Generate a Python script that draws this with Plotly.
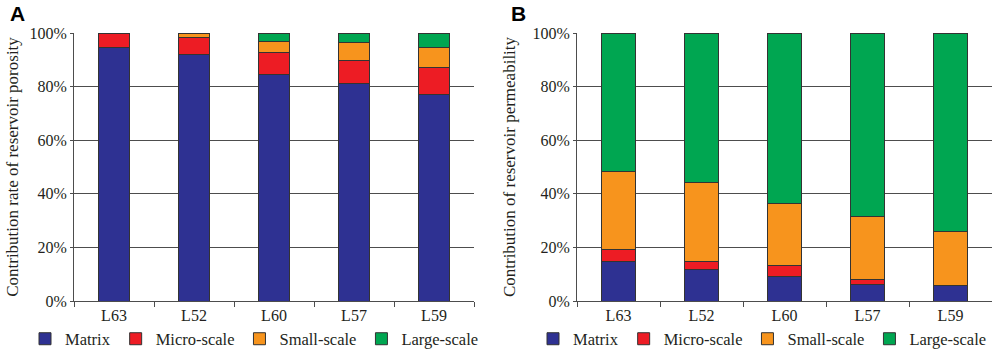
import plotly.graph_objects as go

wells = ["L63", "L52", "L60", "L57", "L59"]
components = ["Matrix", "Micro-scale", "Small-scale", "Large-scale"]
colors = ["#2e3192", "#ed1c24", "#f7941d", "#00a651"]

# Panel A: contribution rate of reservoir porosity (%)
por_matrix = [94.5, 91.8, 84.6, 81.3, 77.2]
por_micro = [5.5, 6.5, 8.2, 8.5, 10.0]
por_small = [0.0, 1.7, 4.2, 6.8, 7.5]
por_large = [0.0, 0.0, 3.0, 3.4, 5.3]

# Panel B: contribution of reservoir permeability (%)
perm_matrix = [14.9, 11.7, 9.2, 6.3, 5.6]
perm_micro = [4.5, 3.2, 3.9, 1.6, 0.0]
perm_small = [29.1, 29.5, 23.3, 23.6, 20.3]
perm_large = [51.5, 55.6, 63.6, 68.5, 74.1]

yticks = [0, 20, 40, 60, 80, 100]
yticklabels = ["0%", "20%", "40%", "60%", "80%", "100%"]

SERIF = "Liberation Serif"
TXT = "#231f20"
GRID = "#4d4d4d"

fig = go.Figure()

por = [por_matrix, por_micro, por_small, por_large]
perm = [perm_matrix, perm_micro, perm_small, perm_large]

for name, col, vals in zip(components, colors, por):
    fig.add_trace(go.Bar(
        x=wells, y=vals, name=name, width=0.38,
        marker=dict(color=col, line=dict(color="#333333", width=1)),
        xaxis="x", yaxis="y", legend="legend",
    ))
for name, col, vals in zip(components, colors, perm):
    fig.add_trace(go.Bar(
        x=wells, y=vals, name=name, width=0.40,
        marker=dict(color=col, line=dict(color="#333333", width=1)),
        xaxis="x2", yaxis="y2", legend="legend2",
    ))

ydom = [1 - 301 / 349, 1 - 33 / 349]

xcommon = dict(
    type="category", showline=True, linecolor=GRID, linewidth=1,
    ticks="outside", tickson="boundaries", ticklen=5, tickcolor=GRID,
    showgrid=False, automargin=False,
    tickfont=dict(family=SERIF, size=16, color=TXT),
)
ycommon = dict(
    range=[0, 100], tickvals=yticks, ticktext=yticklabels,
    showline=True, linecolor=GRID, linewidth=1,
    ticks="outside", ticklen=3, tickcolor=GRID,
    showgrid=True, gridcolor=GRID, gridwidth=1, automargin=False,
    tickfont=dict(family=SERIF, size=16, color=TXT), zeroline=False,
)

legcommon = dict(
    orientation="h", yanchor="middle", xanchor="left",
    font=dict(family=SERIF, size=16.5, color=TXT),
    traceorder="normal", bgcolor="rgba(0,0,0,0)", itemclick=False,
)

fig.update_layout(
    width=996, height=349,
    margin=dict(l=0, r=0, t=0, b=0, autoexpand=False),
    paper_bgcolor="white", plot_bgcolor="white",
    barmode="stack", bargap=0.6,
    xaxis=dict(domain=[74 / 996, 474 / 996], anchor="y", **xcommon),
    yaxis=dict(domain=ydom, anchor="x",
               title=dict(text="Contribution rate of reservoir porosity",
                          font=dict(family=SERIF, size=17, color=TXT), standoff=6),
               **ycommon),
    xaxis2=dict(domain=[577 / 996, 992 / 996], anchor="y2", **xcommon),
    yaxis2=dict(domain=ydom, anchor="x2",
                title=dict(text="Contribution of reservoir permeability",
                           font=dict(family=SERIF, size=17, color=TXT), standoff=12),
                **ycommon),
    legend=dict(x=25 / 996, y=1 - 339 / 349, **legcommon),
    legend2=dict(x=533 / 996, y=1 - 339 / 349, **legcommon),
    annotations=[
        dict(text="<b>A</b>", x=17 / 996, y=1 - 13 / 349, xref="paper", yref="paper",
             showarrow=False, xanchor="center", yanchor="middle",
             font=dict(family="Liberation Sans", size=21, color="#000000")),
        dict(text="<b>B</b>", x=518 / 996, y=1 - 13 / 349, xref="paper", yref="paper",
             showarrow=False, xanchor="center", yanchor="middle",
             font=dict(family="Liberation Sans", size=21, color="#000000")),
    ],
)

fig.write_html(
    "out.html",
    config={"displayModeBar": False},
    post_script="document.body.style.margin='0';document.body.style.padding='0';",
)
